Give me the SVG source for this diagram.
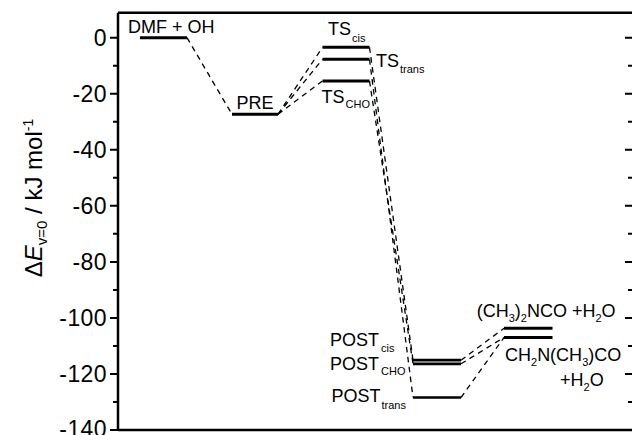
<svg xmlns="http://www.w3.org/2000/svg" width="632" height="435" viewBox="0 0 632 435">
<style>
text{font-family:"Liberation Sans",Arial,sans-serif;fill:#000}
.tick{font-size:23px;text-anchor:end;letter-spacing:0.4px}
.lab{font-size:18px}
.sub{font-size:11px}
.psub{font-size:11px}
.lvl{stroke:#000;stroke-width:3;fill:none}
.lvl2{stroke:#000;stroke-width:2.8;fill:none}
.lvl3{stroke:#000;stroke-width:2.3;fill:none}
.con{stroke:#000;stroke-width:1.3;stroke-dasharray:5.5 4.5;fill:none}
.ax{stroke:#000;stroke-width:2.5;fill:none}
.tk{stroke:#000;stroke-width:2;fill:none}
</style>
<rect width="632" height="435" fill="#fff"/>
<g id="axes">
<path class="ax" d="M118 12.7 H633 M118 12.7 V430 M118 430 H633"/>
<path class="tk" d="M110 37.7H118 M113 65.7H118 M110 93.7H118 M113 121.8H118 M110 149.8H118 M113 177.8H118 M110 205.8H118 M113 233.8H118 M110 261.9H118 M113 289.9H118 M110 317.9H118 M113 345.9H118 M110 373.9H118 M113 401.9H118 M110 430H118"/>
<path class="tk" d="M625 37.7H633 M628 65.7H633 M625 93.7H633 M628 121.8H633 M625 149.8H633 M628 177.8H633 M625 205.8H633 M628 233.8H633 M625 261.9H633 M628 289.9H633 M625 317.9H633 M628 345.9H633 M625 373.9H633 M628 401.9H633"/>
<text class="tick" x="107" y="45.8">0</text>
<text class="tick" x="107" y="101.8">-20</text>
<text class="tick" x="107" y="157.9">-40</text>
<text class="tick" x="107" y="213.9">-60</text>
<text class="tick" x="107" y="270">-80</text>
<text class="tick" x="107" y="326">-100</text>
<text class="tick" x="107" y="382">-120</text>
<text class="tick" x="107" y="437">-140</text>
<text transform="translate(42,198) rotate(-90)" text-anchor="middle" font-size="24">Δ<tspan font-style="italic">E</tspan><tspan font-size="15" dy="5">v=0</tspan><tspan dy="-5"> / kJ mol</tspan><tspan font-size="14" dy="-9">-1</tspan></text>
</g>
<g id="connectors">
<path class="con" d="M187 37.7 L232 114.3"/>
<path class="con" d="M278 114.3 L322.5 47.3"/>
<path class="con" d="M278 114.3 L322.5 59.3"/>
<path class="con" d="M278 114.3 L322.5 81"/>
<path class="con" d="M369.5 47.3 L413 360.2"/>
<path class="con" d="M369.5 59.3 L413 397.5"/>
<path class="con" d="M369.5 81 L413 363.8"/>
<path class="con" d="M461 360.2 L504 328.3"/>
<path class="con" d="M461 363.8 L504 337.5"/>
<path class="con" d="M461 397.5 L504 337.5"/>
</g>
<g id="node-dmf-oh">
<path class="lvl" d="M140 37.7 H187"/>
<text class="lab" x="128" y="33.3">DMF + OH</text>
</g>
<g id="node-pre">
<path class="lvl" d="M232 114.3 H278"/>
<text class="lab" x="236.5" y="109.3">PRE</text>
</g>
<g id="node-ts-cis">
<path class="lvl" d="M322.5 47.3 H369.5"/>
<text class="lab" x="328" y="35">TS<tspan class="sub" dx="1" dy="6.7">cis</tspan></text>
</g>
<g id="node-ts-trans">
<path class="lvl" d="M322.5 59.3 H369.5"/>
<text class="lab" x="376" y="66.7">TS<tspan class="sub" dx="1" dy="6.6">trans</tspan></text>
</g>
<g id="node-ts-cho">
<path class="lvl" d="M322.5 81 H369.5"/>
<text class="lab" x="321.5" y="102.7">TS<tspan class="sub" dx="1" dy="5.6">CHO</tspan></text>
</g>
<g id="node-post-cis">
<path class="lvl2" d="M413 360.2 H461"/>
<text class="lab" x="330" y="345.7">POST<tspan class="sub" dx="2" dy="6">cis</tspan></text>
</g>
<g id="node-post-cho">
<path class="lvl2" d="M413 363.8 H461"/>
<text class="lab" x="330" y="370">POST<tspan class="sub" dx="2" dy="5">CHO</tspan></text>
</g>
<g id="node-post-trans">
<path class="lvl3" d="M413 397.5 H461"/>
<text class="lab" x="331.5" y="401.7">POST<tspan class="sub" dx="1" dy="7.3">trans</tspan></text>
</g>
<g id="node-ch3-2nco">
<path class="lvl" d="M504 328.3 H552.5"/>
<text class="lab" x="476.7" y="316.7">(CH<tspan class="psub" dy="5">3</tspan><tspan dy="-5">)</tspan><tspan class="psub" dy="5">2</tspan><tspan dy="-5">NCO +H</tspan><tspan class="psub" dy="5">2</tspan><tspan dy="-5">O</tspan></text>
</g>
<g id="node-ch2n-ch3-co">
<path class="lvl" d="M504 337.5 H552.5"/>
<text class="lab" x="505" y="361">CH<tspan class="psub" dy="5">2</tspan><tspan dy="-5">N(CH</tspan><tspan class="psub" dy="5">3</tspan><tspan dy="-5">)CO</tspan></text>
<text class="lab" x="560" y="385.7">+H<tspan class="psub" dy="5">2</tspan><tspan dy="-5">O</tspan></text>
</g>
</svg>
